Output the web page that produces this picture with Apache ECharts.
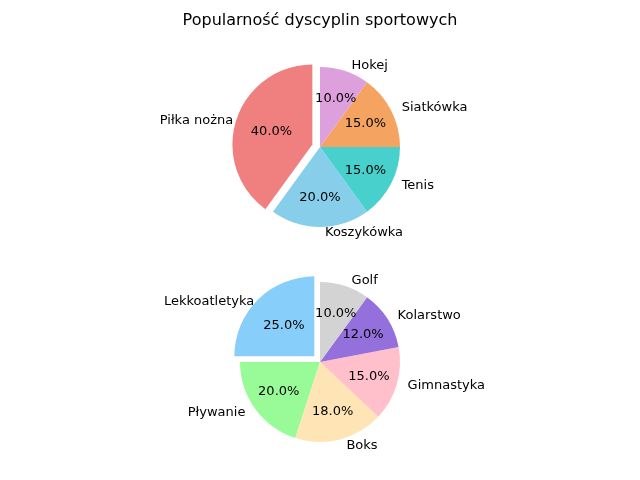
<!DOCTYPE html>
<html><head><meta charset="utf-8">
<script src="https://cdn.jsdelivr.net/npm/echarts@6/dist/echarts.min.js"></script>
<style>html,body{margin:0;padding:0;background:#fff}#c{width:640px;height:480px}</style>
</head><body><div id="c"></div>
<script>
const topNames = ['Piłka nożna','Koszykówka','Tenis','Siatkówka','Hokej'];
const topValues = [40,20,15,15,10];
const topColors = ['#f08080','#87ceeb','#48d1cc','#f4a460','#dda0dd'];
const botNames = ['Lekkoatletyka','Pływanie','Boks','Gimnastyka','Kolarstwo','Golf'];
const botValues = [25,20,18,15,12,10];
const botColors = ['#87cefa','#98fb98','#ffe4b5','#ffc0cb','#9370db','#d3d3d3'];
const R = 80, font = 'DejaVu Sans';

function pieSeries(names, values, colors, cx, cy){
  const total = values.reduce((a,b)=>a+b,0);
  const mid = (90 + values[0]/total*180) * Math.PI/180;
  const ox = Math.cos(mid)*R*0.1, oy = -Math.sin(mid)*R*0.1;
  const base = {type:'pie', startAngle:90, clockwise:false, silent:true, animation:false, emphasis:{disabled:true}};
  const fill = Object.assign({}, base, {center:[cx,cy], radius:R, label:{show:false}, labelLine:{show:false},
    data: names.map((n,i)=>({name:n, value:values[i], itemStyle:{color: i===0?'transparent':colors[i]}}))});
  const expl = Object.assign({}, base, {center:[cx+ox,cy+oy], radius:R, label:{show:false}, labelLine:{show:false},
    data:[{name:names[0], value:values[0], itemStyle:{color:colors[0]}},
          {name:'_rest', value:total-values[0], itemStyle:{color:'transparent'}}]});
  const pct = Object.assign({}, base, {center:[cx,cy], radius:[R*0.2,R],
    label:{show:true, position:'inside', color:'#000', fontFamily:font, fontSize:13,
      formatter:p=>p.percent.toFixed(1)+'%'}, labelLine:{show:false},
    data: names.map((n,i)=>({name:n, value:values[i], itemStyle:{color:'transparent'}}))});
  const nm = Object.assign({}, base, {center:[cx,cy], radius:R,
    label:{show:true, position:'outside', color:'#000', fontFamily:font, fontSize:13, formatter:'{b}'},
    labelLine:{show:false, length:6, length2:0},
    data: names.map((n,i)=>({name:n, value:values[i], itemStyle:{color:'transparent'}}))});
  return [fill, expl, pct, nm];
}

const chart = echarts.init(document.getElementById('c'));
chart.setOption({
  title:{text:'Popularność dyscyplin sportowych', left:'center', top:8,
    textStyle:{fontFamily:font, fontSize:16, fontWeight:'normal', color:'#000'}},
  series:[...pieSeries(topNames, topValues, topColors, 320, 147),
          ...pieSeries(botNames, botValues, botColors, 320, 362)]
});
</script></body></html>
